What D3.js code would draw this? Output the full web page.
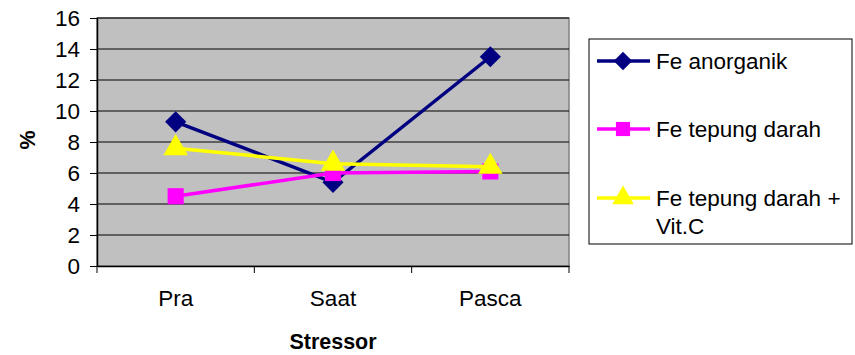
<!DOCTYPE html>
<html>
<head>
<meta charset="utf-8">
<script src="https://cdn.jsdelivr.net/npm/d3@7"></script>
<style>
  body { margin: 0; background: #fff; }
  text { font-family: "Liberation Sans", Arial, sans-serif; fill: #000; }
</style>
</head>
<body>
<svg id="chart" width="855" height="355"></svg>
<script>
// data
const categories = ["Pra", "Saat", "Pasca"]
const seriesNames = ["Fe anorganik", "Fe tepung darah", "Fe tepung darah + Vit.C"]
const feAnorganik = [9.3, 5.4, 13.5]
const feTepungDarah = [4.5, 6.0, 6.1]
const feTepungDarahVitC = [7.6, 6.6, 6.4]
const yTicks = [0, 2, 4, 6, 8, 10, 12, 14, 16]

const series = [
    {name: seriesNames[0], values: feAnorganik, color: "#000080", marker: "diamond"},
    {name: seriesNames[1], values: feTepungDarah, color: "#ff00ff", marker: "square"},
    {name: seriesNames[2], values: feTepungDarahVitC, color: "#ffff00", marker: "triangle"}
]

let svg = d3.select("#chart")
let plot = {left: 97, top: 18, right: 569, bottom: 266}
let fontSize = "22.5px"

let x = d3.scaleBand()
    .domain(categories)
    .range([plot.left, plot.right])
let y = d3.scaleLinear()
    .domain([0, 16])
    .range([plot.bottom, plot.top])

// plot background
svg.append("rect")
    .attr("x", plot.left)
    .attr("y", plot.top)
    .attr("width", plot.right - plot.left)
    .attr("height", plot.bottom - plot.top)
    .style("fill", "#c0c0c0")
    .style("stroke", "#808080")
    .style("stroke-width", 1.5)

// gridlines
svg.append("g")
    .selectAll("line")
    .data(yTicks.filter(d => d > 0))
    .join("line")
    .attr("x1", plot.left)
    .attr("x2", plot.right)
    .attr("y1", d => y(d))
    .attr("y2", d => y(d))
    .style("stroke", "#000")
    .style("stroke-width", 1)

// y axis
let yAxis = svg.append("g")
    .attr("transform", "translate(" + plot.left + ",0)")
    .call(d3.axisLeft(y).tickValues(yTicks).tickSize(7).tickPadding(10).tickSizeOuter(0))
yAxis.select(".domain").style("stroke", "#000").style("stroke-width", 1.5)
yAxis.selectAll(".tick line").style("stroke", "#000")
yAxis.selectAll(".tick text")
    .style("font-family", "Liberation Sans, Arial, sans-serif")
    .style("font-size", fontSize)
    .attr("dy", "0.35em")

// x axis
let xAxis = svg.append("g")
    .attr("transform", "translate(0," + plot.bottom + ")")
    .call(d3.axisBottom(x).tickSize(0).tickPadding(24))
xAxis.select(".domain").style("stroke", "#000").style("stroke-width", 1.5)
xAxis.selectAll(".tick text")
    .style("font-family", "Liberation Sans, Arial, sans-serif")
    .style("font-size", fontSize)
// category separator ticks
xAxis.selectAll(".sep")
    .data(categories.slice(1).concat(["end"]))
    .join("line")
    .classed("sep", true)
    .attr("x1", (d, i) => plot.left + (i + 1) * x.step())
    .attr("x2", (d, i) => plot.left + (i + 1) * x.step())
    .attr("y1", 0)
    .attr("y2", 7)
    .style("stroke", "#000")
xAxis.append("line")
    .attr("x1", plot.left).attr("x2", plot.left)
    .attr("y1", 0).attr("y2", 7)
    .style("stroke", "#000")

// axis titles
svg.append("text")
    .attr("x", (plot.left + plot.right) / 2)
    .attr("y", 349)
    .attr("text-anchor", "middle")
    .style("font-size", "21.5px")
    .style("font-weight", "bold")
    .text("Stressor")
svg.append("text")
    .attr("transform", "translate(35,140) rotate(-90)")
    .attr("text-anchor", "middle")
    .style("font-size", "21.5px")
    .style("font-weight", "bold")
    .text("%")

function markerPath(type, size)
{
    if (type == "diamond") return d3.symbol(d3.symbolDiamond2, size * 1.1)()
    if (type == "square") return d3.symbol(d3.symbolSquare, size)()
    return d3.symbol(d3.symbolTriangle, size)()
}

let line = d3.line()
    .x((d, i) => x(categories[i]) + x.bandwidth() / 2)
    .y(d => y(d))

series.forEach(s => {
    let g = svg.append("g")
    g.append("path")
        .attr("d", line(s.values))
        .style("fill", "none")
        .style("stroke", s.color)
        .style("stroke-width", 3.5)
    g.selectAll(".mk")
        .data(s.values)
        .join("path")
        .attr("transform", (d, i) => "translate(" + (x(categories[i]) + x.bandwidth() / 2) + "," + y(d) + ")")
        .attr("d", markerPath(s.marker, 260))
        .style("fill", s.color)
})

// legend
let legend = svg.append("g")
legend.append("rect")
    .attr("x", 589)
    .attr("y", 39)
    .attr("width", 263)
    .attr("height", 205)
    .style("fill", "#fff")
    .style("stroke", "#000")
    .style("stroke-width", 1)

let rowsY = [61, 129, 198]
series.forEach((s, i) => {
    let row = legend.append("g").attr("transform", "translate(0," + rowsY[i] + ")")
    row.append("line")
        .attr("x1", 597).attr("x2", 650)
        .attr("y1", 0).attr("y2", 0)
        .style("stroke", s.color)
        .style("stroke-width", 3.5)
    row.append("path")
        .attr("transform", "translate(623,0)")
        .attr("d", markerPath(s.marker, 200))
        .style("fill", s.color)
    let words = s.name == "Fe tepung darah + Vit.C" ? ["Fe tepung darah +", "Vit.C"] : [s.name]
    let t = row.append("text")
        .attr("x", 656)
        .attr("y", 0)
        .style("font-size", fontSize)
    words.forEach((w, j) => {
        t.append("tspan")
            .attr("x", 656)
            .attr("dy", j == 0 ? "0.35em" : 28)
            .text(w)
    })
})
</script>
</body>
</html>
